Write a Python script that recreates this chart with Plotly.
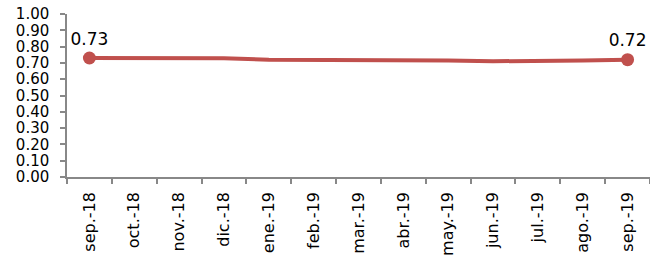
import plotly.graph_objects as go

months = ["sep.-18", "oct.-18", "nov.-18", "dic.-18", "ene.-19", "feb.-19", "mar.-19",
          "abr.-19", "may.-19", "jun.-19", "jul.-19", "ago.-19", "sep.-19"]
values = [0.73, 0.728, 0.729, 0.729, 0.72, 0.72, 0.72, 0.718, 0.715, 0.71, 0.71, 0.715, 0.72]
end_idx = [0, 12]
end_labels = ["0.73", "0.72"]
y_ticks = [i / 10 for i in range(11)]
y_ticktext = [f"{v:.2f}" for v in y_ticks]

color = "#C0504D"
font = "DejaVu Sans"

fig = go.Figure()
fig.add_trace(go.Scatter(
    x=months, y=values, mode="lines",
    line=dict(color=color, width=4),
    cliponaxis=False, hoverinfo="skip",
))
fig.add_trace(go.Scatter(
    x=[months[i] for i in end_idx], y=[values[i] for i in end_idx],
    mode="markers+text", text=end_labels, textposition="top center",
    textfont=dict(family=font, size=17, color="black"),
    marker=dict(color=color, size=13, opacity=1),
    cliponaxis=False,
))

fig.update_layout(
    width=650, height=259,
    margin=dict(l=67, r=0, t=14, b=82),
    paper_bgcolor="white", plot_bgcolor="white",
    showlegend=False,
    font=dict(family=font, size=16, color="black"),
)
fig.update_xaxes(
    type="category", range=[-0.5, 12.5], automargin=False,
    tickangle=-90, tickson="boundaries",
    ticks="outside", ticklen=5, tickcolor="#888888", tickwidth=1.5,
    showline=True, linecolor="#888888", linewidth=1.5,
    showgrid=False, tickfont=dict(family=font, size=16),
    ticklabelstandoff=7,
)
fig.update_yaxes(
    range=[0, 1], tickvals=y_ticks, ticktext=y_ticktext, automargin=False,
    ticks="outside", ticklen=5, tickcolor="#888888", tickwidth=1.5,
    showline=True, linecolor="#888888", linewidth=1.5,
    showgrid=False, zeroline=False,
    tickfont=dict(family=font, size=15),
    ticklabelstandoff=8,
)

fig.write_html(
    "out.html",
    config={"displayModeBar": False},
    post_script="document.body.style.margin='0';document.body.style.overflow='hidden';",
)
